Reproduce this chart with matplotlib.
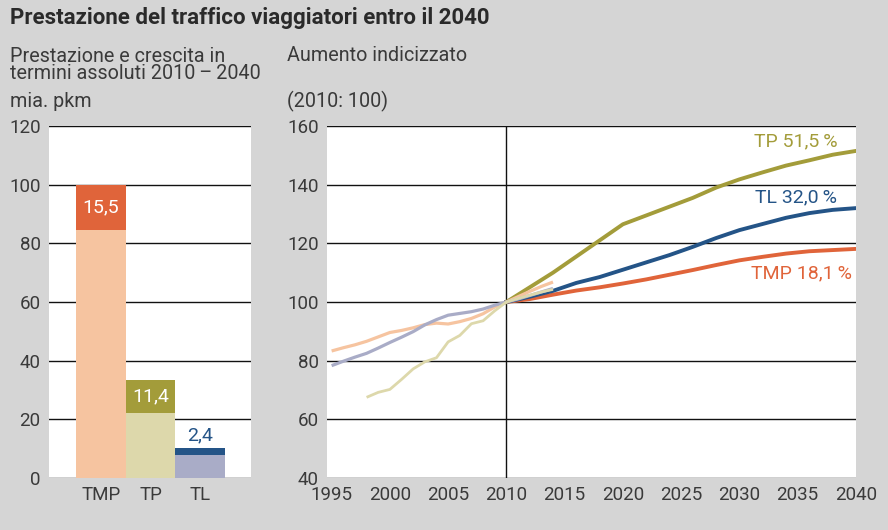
import matplotlib.pyplot as plt
import numpy as np

plt.rcParams["font.family"] = ["Roboto", "DejaVu Sans"]

# Dati - barre (mia. pkm)
categorie = ["TMP", "TP", "TL"]
base_2010 = [84.5, 22.0, 7.9]
crescita = [15.5, 11.4, 2.4]
etichette_crescita = ["15,5", "11,4", "2,4"]

# Dati - serie storiche (indice 2010 = 100)
anni_tmp_storico = [1995, 1996, 1997, 1998, 1999, 2000, 2001, 2002, 2003, 2004, 2005, 2006, 2007, 2008, 2009, 2010, 2011, 2012, 2013, 2014]
tmp_storico = [83.3, 84.4, 85.4, 86.6, 88.1, 89.6, 90.3, 91.2, 92.3, 92.8, 92.5, 93.3, 94.4, 96.0, 98.3, 100.0, 101.8, 103.6, 105.3, 106.8]

anni_tl_storico = [1995, 1996, 1997, 1998, 1999, 2000, 2001, 2002, 2003, 2004, 2005, 2006, 2007, 2008, 2009, 2010, 2011, 2012, 2013, 2014]
tl_storico = [78.3, 79.8, 81.2, 82.5, 84.3, 86.2, 88.0, 89.9, 92.2, 94.0, 95.5, 96.1, 96.7, 97.6, 98.9, 100.0, 101.0, 102.2, 103.4, 104.6]

anni_tp_storico = [1998, 1999, 2000, 2001, 2002, 2003, 2004, 2005, 2006, 2007, 2008, 2009, 2010, 2011, 2012, 2013, 2014]
tp_storico = [67.5, 69.2, 70.2, 73.6, 77.2, 79.6, 81.0, 86.4, 88.6, 92.6, 93.6, 97.0, 100.0, 101.2, 102.3, 103.4, 104.3]

# Dati - prospettive 2010-2040
anni_prosp = [2010, 2012, 2014, 2016, 2018, 2020, 2022, 2024, 2026, 2028, 2030, 2032, 2034, 2036, 2038, 2040]
tp_prosp = [100.0, 105.0, 110.0, 115.5, 121.0, 126.5, 129.5, 132.5, 135.5, 139.0, 141.8, 144.2, 146.5, 148.3, 150.2, 151.5]
tl_prosp = [100.0, 101.8, 103.8, 106.5, 108.5, 111.0, 113.5, 116.0, 118.8, 121.8, 124.5, 126.6, 128.7, 130.3, 131.4, 132.0]
tmp_prosp = [100.0, 101.0, 102.5, 103.9, 105.0, 106.3, 107.7, 109.3, 110.9, 112.6, 114.2, 115.4, 116.5, 117.3, 117.7, 118.1]

sfondo = "#d5d5d5"
testo = "#3a3a3a"
c_tmp, c_tmp_chiaro = "#e0643a", "#f6c4a0"
c_tp, c_tp_chiaro = "#a39c3a", "#ddd8ab"
c_tl, c_tl_chiaro = "#245487", "#a9acc7"

fig = plt.figure(figsize=(8.88, 5.30), dpi=100, facecolor=sfondo)

# Titoli
fig.text(0.011, 0.966, "Prestazione del traffico viaggiatori entro il 2040",
         fontsize=16, fontweight="bold", color="#2a2a2a", va="center")
fig.text(0.011, 0.877, "Prestazione e crescita in\ntermini assoluti 2010\u2009–\u20092040",
         fontsize=14.2, color=testo, va="center", linespacing=0.9)
fig.text(0.011, 0.808, "mia. pkm", fontsize=14.2, color=testo, va="center")
fig.text(0.323, 0.896, "Aumento indicizzato", fontsize=14.2, color=testo, va="center")
fig.text(0.323, 0.808, "(2010: 100)", fontsize=14.2, color=testo, va="center")

# Grafico a barre
ax1 = fig.add_axes([0.0552, 0.0981, 0.2275, 0.6642])
ax1.set_facecolor("white")
x = np.arange(len(categorie))
ax1.bar(x, base_2010, width=1.0, color=[c_tmp_chiaro, c_tp_chiaro, c_tl_chiaro], zorder=3)
ax1.bar(x, crescita, width=1.0, bottom=base_2010, color=[c_tmp, c_tp, c_tl], zorder=3)
for i in range(len(categorie)):
    if crescita[i] > 5:
        ax1.text(x[i], base_2010[i] + crescita[i] / 2, etichette_crescita[i],
                 ha="center", va="center", color="white", fontsize=14, zorder=4)
    else:
        ax1.text(x[i], base_2010[i] + crescita[i] + 1.2, etichette_crescita[i],
                 ha="center", va="bottom", color=c_tl, fontsize=14, zorder=4)
ax1.set_xlim(-1.04, 3.02)
ax1.set_ylim(0, 120)
ax1.set_yticks(range(0, 121, 20))
ax1.set_xticks(x)
ax1.set_xticklabels(categorie)
ax1.yaxis.grid(True, color="#111111", lw=1.0, zorder=1)
ax1.tick_params(length=0, labelsize=13.5, labelcolor=testo, pad=6)
for s in ax1.spines.values():
    s.set_visible(False)

# Grafico a linee
ax2 = fig.add_axes([0.3682, 0.0981, 0.5957, 0.6642])
ax2.set_facecolor("white")
ax2.plot(anni_tmp_storico, tmp_storico, color=c_tmp_chiaro, lw=2.3, zorder=3, solid_capstyle="butt")
ax2.plot(anni_tl_storico, tl_storico, color=c_tl_chiaro, lw=2.3, zorder=3, solid_capstyle="butt")
ax2.plot(anni_tp_storico, tp_storico, color=c_tp_chiaro, lw=2.0, zorder=3, solid_capstyle="butt")
ax2.plot(anni_prosp, tmp_prosp, color=c_tmp, lw=2.8, zorder=2)
ax2.plot(anni_prosp, tl_prosp, color=c_tl, lw=2.8, zorder=2)
ax2.plot(anni_prosp, tp_prosp, color=c_tp, lw=2.8, zorder=2)
ax2.axvline(2010, color="#111111", lw=1.0, zorder=1)
ax2.text(2038.4, 154.6, "TP 51,5\u2009%", color=c_tp, fontsize=14, ha="right", va="center")
ax2.text(2038.4, 135.8, "TL 32,0\u2009%", color=c_tl, fontsize=14, ha="right", va="center")
ax2.text(2039.7, 109.9, "TMP 18,1\u2009%", color=c_tmp, fontsize=14, ha="right", va="center")
ax2.set_xlim(1994.6, 2040)
ax2.set_ylim(40, 160)
ax2.set_yticks(range(40, 161, 20))
ax2.set_xticks(range(1995, 2041, 5))
ax2.yaxis.grid(True, color="#111111", lw=1.0, zorder=1)
ax2.tick_params(length=0, labelsize=13.5, labelcolor=testo, pad=6)
for s in ax2.spines.values():
    s.set_visible(False)

fig.savefig("out.png", dpi=100, facecolor=sfondo)
